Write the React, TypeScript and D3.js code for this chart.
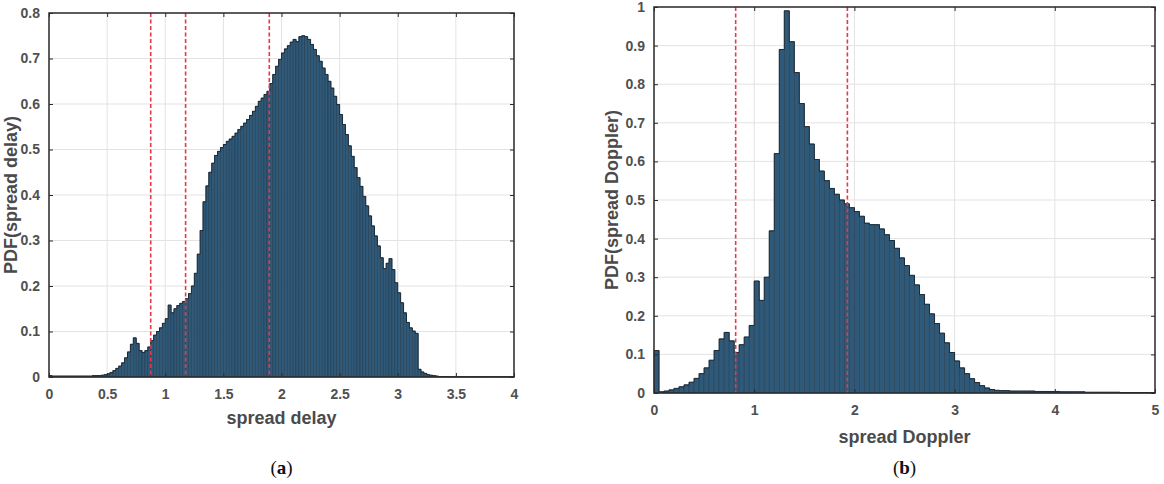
import { useEffect, useRef } from 'react'
import * as d3 from 'd3'

// spread delay histogram, bins of 0.025 starting at 0
const delayBinWidth = 0.025
const delayPdf = [
  0.003, 0.002, 0.002, 0.002, 0.002, 0.002, 0.002, 0.002, 0.002, 0.002,
  0.002, 0.002, 0.002, 0.002, 0.002, 0.003, 0.003, 0.003, 0.004, 0.005,
  0.007, 0.01, 0.014, 0.019, 0.024, 0.031, 0.042, 0.055, 0.072, 0.086,
  0.074, 0.058, 0.054, 0.058, 0.066, 0.08, 0.092, 0.1, 0.108, 0.118,
  0.128, 0.158, 0.141, 0.15, 0.157, 0.162, 0.166, 0.172, 0.183, 0.2,
  0.228, 0.27, 0.322, 0.385, 0.42, 0.45, 0.47, 0.487, 0.496, 0.504,
  0.511, 0.518, 0.523, 0.529, 0.536, 0.544, 0.551, 0.558, 0.566, 0.575,
  0.584, 0.595, 0.606, 0.613, 0.621, 0.628, 0.645, 0.665, 0.683, 0.698,
  0.712, 0.721, 0.728, 0.736, 0.742, 0.737, 0.748, 0.75, 0.748, 0.742,
  0.731, 0.72, 0.706, 0.694, 0.679, 0.665, 0.65, 0.635, 0.617, 0.599,
  0.577, 0.555, 0.533, 0.508, 0.485, 0.46, 0.438, 0.419, 0.397, 0.376,
  0.354, 0.332, 0.31, 0.288, 0.262, 0.238, 0.25, 0.26, 0.236, 0.207,
  0.185, 0.163, 0.141, 0.12, 0.108, 0.101, 0.096, 0.017, 0.011, 0.008,
  0.005, 0.004, 0.003, 0.002, 0.001, 0.001, 0.001, 0.0005, 0.0005, 0.0005,
  0.0005, 0.0005, 0.0005, 0.0005, 0.0005, 0.0005, 0.0005, 0.0005, 0.0005, 0.0005,
  0.0005, 0.0005, 0.0005, 0.0005, 0.0005, 0.0005, 0.0005, 0.0005, 0.0005, 0.0005,
]
const delayThresholds = [0.875, 1.175, 1.895]
const delayXTicks = [0, 0.5, 1, 1.5, 2, 2.5, 3, 3.5, 4]
const delayYTicks = [0, 0.1, 0.2, 0.3, 0.4, 0.5, 0.6, 0.7, 0.8]

// spread Doppler histogram, bins of 0.05 starting at 0
const dopplerBinWidth = 0.05
const dopplerPdf = [
  0.11, 0.003, 0.005, 0.008, 0.012, 0.016, 0.021, 0.028, 0.038, 0.05,
  0.065, 0.085, 0.11, 0.14, 0.157, 0.135, 0.105, 0.125, 0.145, 0.175,
  0.29, 0.24, 0.3, 0.42, 0.62, 0.89, 0.99, 0.91, 0.83, 0.75,
  0.69, 0.645, 0.605, 0.575, 0.55, 0.53, 0.515, 0.5, 0.49, 0.48,
  0.47, 0.458, 0.44, 0.436, 0.436, 0.425, 0.41, 0.395, 0.375, 0.35,
  0.33, 0.305, 0.28, 0.255, 0.23, 0.205, 0.18, 0.155, 0.13, 0.105,
  0.083, 0.065, 0.05, 0.037, 0.027, 0.019, 0.013, 0.009, 0.007, 0.006,
  0.006, 0.005, 0.005, 0.005, 0.005, 0.005, 0.004, 0.004, 0.004, 0.004,
  0.004, 0.003, 0.003, 0.003, 0.003, 0.003, 0.002, 0.002, 0.002, 0.002,
  0.002, 0.002, 0.002, 0.001, 0.001, 0.001, 0.001, 0.001, 0.001, 0.001,
]
const dopplerThresholds = [0.815, 1.93]
const dopplerXTicks = [0, 1, 2, 3, 4, 5]
const dopplerYTicks = [0, 0.1, 0.2, 0.3, 0.4, 0.5, 0.6, 0.7, 0.8, 0.9, 1]

interface PanelConfig {
  left: number
  top: number
  width: number
  height: number
  xMax: number
  yMax: number
  binWidth: number
  values: number[]
  thresholds: number[]
  xTicks: number[]
  yTicks: number[]
  xLabel: string
  yLabel: string
  caption: string
  xLabelY: number
  yLabelX: number
}

const frameColor = '#2b2b2b'
const tickText = '#505050'
const gridColor = '#e3e3e3'

function drawPanel(svg: d3.Selection<SVGSVGElement, unknown, null, undefined>, cfg: PanelConfig) {
  const { width, height } = cfg
  const g = svg.append('g').attr('transform', `translate(${cfg.left},${cfg.top})`)

  const x = d3.scaleLinear().domain([0, cfg.xMax]).range([0, width])
  const y = d3.scaleLinear().domain([0, cfg.yMax]).range([height, 0])

  // grid
  g.append('g')
    .selectAll('line')
    .data(cfg.xTicks)
    .join('line')
    .attr('x1', d => x(d)).attr('x2', d => x(d))
    .attr('y1', 0).attr('y2', height)
    .attr('stroke', gridColor)
  g.append('g')
    .selectAll('line')
    .data(cfg.yTicks)
    .join('line')
    .attr('x1', 0).attr('x2', width)
    .attr('y1', d => y(d)).attr('y2', d => y(d))
    .attr('stroke', gridColor)

  // bars
  const bw = x(cfg.binWidth) - x(0)
  g.append('g')
    .selectAll('rect')
    .data(cfg.values)
    .join('rect')
    .attr('x', (_, i) => x(i * cfg.binWidth))
    .attr('y', d => y(d))
    .attr('width', bw)
    .attr('height', d => height - y(d))
    .attr('fill', '#2f5979')
    .attr('stroke', '#1f3547')
    .attr('stroke-width', 0.5)

  // outline of the histogram top
  const steps: [number, number][] = []
  cfg.values.forEach((v, i) => {
    steps.push([x(i * cfg.binWidth), y(v)])
    steps.push([x((i + 1) * cfg.binWidth), y(v)])
  })
  g.append('path')
    .attr('d', d3.line()(steps))
    .attr('fill', 'none')
    .attr('stroke', '#1c2b36')
    .attr('stroke-width', 1)

  // red dashed thresholds
  g.append('g')
    .selectAll('line')
    .data(cfg.thresholds)
    .join('line')
    .attr('x1', d => x(d)).attr('x2', d => x(d))
    .attr('y1', 0).attr('y2', height)
    .attr('stroke', '#e5394a')
    .attr('stroke-width', 1.6)
    .attr('stroke-dasharray', '4 2.5')

  // axes
  const styleAxis = (sel: d3.Selection<SVGGElement, unknown, null, undefined>) => {
    sel.select('.domain').remove()
    sel.selectAll('.tick line').attr('stroke', frameColor).attr('stroke-width', 1)
    sel.selectAll('.tick text')
      .attr('fill', tickText)
      .style('font-family', 'Liberation Sans, Arial, sans-serif')
      .style('font-weight', 'bold')
      .style('font-size', '14px')
  }
  const fmt = (d: d3.NumberValue) => String(+d)

  g.append('g')
    .attr('transform', `translate(0,${height})`)
    .call(d3.axisBottom(x).tickValues(cfg.xTicks).tickFormat(fmt).tickSizeInner(-4).tickSizeOuter(0).tickPadding(12))
    .call(styleAxis)
  g.append('g')
    .call(d3.axisTop(x).tickValues(cfg.xTicks).tickFormat(() => '').tickSizeInner(-4).tickSizeOuter(0))
    .call(styleAxis)
  g.append('g')
    .call(d3.axisLeft(y).tickValues(cfg.yTicks).tickFormat(fmt).tickSizeInner(-4).tickSizeOuter(0).tickPadding(9))
    .call(styleAxis)
  g.append('g')
    .attr('transform', `translate(${width},0)`)
    .call(d3.axisRight(y).tickValues(cfg.yTicks).tickFormat(() => '').tickSizeInner(-4).tickSizeOuter(0))
    .call(styleAxis)

  // frame
  g.append('rect')
    .attr('width', width)
    .attr('height', height)
    .attr('fill', 'none')
    .attr('stroke', frameColor)
    .attr('stroke-width', 1.5)

  g.append('text')
    .attr('x', width / 2)
    .attr('y', height + cfg.xLabelY)
    .attr('text-anchor', 'middle')
    .attr('fill', '#4a4a4a')
    .style('font-family', 'Liberation Sans, Arial, sans-serif')
    .style('font-weight', 'bold')
    .style('font-size', '18px')
    .text(cfg.xLabel)

  g.append('text')
    .attr('transform', `translate(${cfg.yLabelX},${height / 2}) rotate(-90)`)
    .attr('text-anchor', 'middle')
    .attr('fill', '#4a4a4a')
    .style('font-family', 'Liberation Sans, Arial, sans-serif')
    .style('font-weight', 'bold')
    .style('font-size', '18px')
    .text(cfg.yLabel)

  const cap = g.append('text')
    .attr('x', width / 2)
    .attr('y', 474 - cfg.top)
    .attr('text-anchor', 'middle')
    .attr('fill', '#111')
    .style('font-family', 'Liberation Serif, Times New Roman, serif')
    .style('font-size', '19px')
  cap.append('tspan').text('(')
  cap.append('tspan').style('font-weight', 'bold').text(cfg.caption)
  cap.append('tspan').text(')')
}

export default function App() {
  const svgRef = useRef<SVGSVGElement>(null)

  useEffect(() => {
    if (!svgRef.current) return
    const svg = d3.select(svgRef.current)
    svg.selectAll('*').remove()

    drawPanel(svg, {
      left: 49, top: 13, width: 465, height: 364,
      xMax: 4, yMax: 0.8, binWidth: delayBinWidth, values: delayPdf,
      thresholds: delayThresholds, xTicks: delayXTicks, yTicks: delayYTicks,
      xLabel: 'spread delay', yLabel: 'PDF(spread delay)', caption: 'a',
      xLabelY: 47, yLabelX: -32,
    })

    drawPanel(svg, {
      left: 654, top: 7, width: 501, height: 386,
      xMax: 5, yMax: 1, binWidth: dopplerBinWidth, values: dopplerPdf,
      thresholds: dopplerThresholds, xTicks: dopplerXTicks, yTicks: dopplerYTicks,
      xLabel: 'spread Doppler', yLabel: 'PDF(spread Doppler)', caption: 'b',
      xLabelY: 50, yLabelX: -36,
    })
  }, [])

  return (
    <svg
      ref={svgRef}
      width={1164}
      height={484}
      style={{ position: 'absolute', left: 0, top: 0, background: '#fff' }}
    />
  )
}
